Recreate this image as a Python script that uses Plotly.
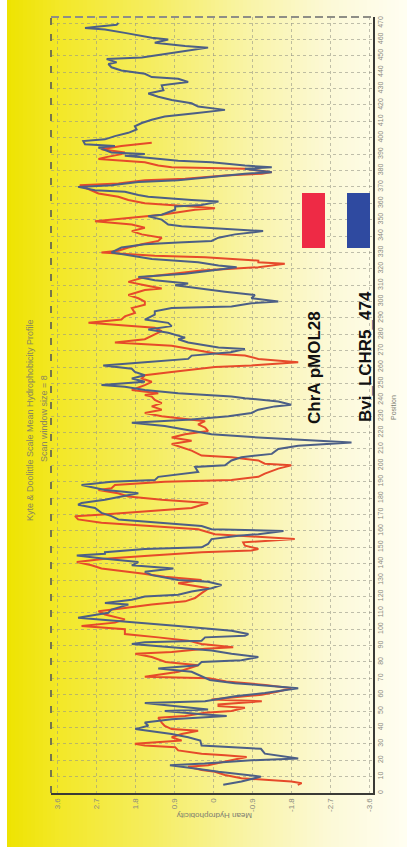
import plotly.graph_objects as go

# ---------------- data ----------------
chra_pos = [5, 6, 7, 8, 9, 11, 13, 14, 16, 17, 19, 21, 22, 23, 24, 26, 28, 29, 30, 32, 34, 36, 38, 39,
            41, 43, 46, 47, 49, 50, 52, 53, 54, 56, 57, 59, 60, 62, 64, 66, 68, 70, 71, 74, 78, 80,
            83, 85, 86, 88, 89, 91, 93, 95, 97, 100, 102, 104, 106, 109, 111, 113, 115, 117, 119,
            122, 125, 128, 130, 132, 134, 137, 139, 141, 143, 145, 147, 148, 149, 151, 153, 155,
            157, 158, 161, 163, 165, 167, 169, 170, 172, 174, 177, 179, 181, 183, 185, 186, 188,
            190, 191, 193, 195, 198, 200, 201, 203, 205, 206, 209, 213, 215, 217, 219, 221, 223,
            225, 227, 230, 232, 234, 236, 238, 240, 242, 243, 244, 246, 249, 251, 253, 255, 257,
            259, 260, 261, 263, 265, 267, 268, 271, 273, 275, 276, 277, 280, 282, 284, 286, 287,
            289, 291, 293, 296, 298, 300, 302, 304, 307, 308, 310, 312, 315, 317, 319, 320, 321,
            323, 324, 325, 327, 328, 330, 331, 333, 335, 337, 339, 341, 343, 345, 347, 349, 351,
            353, 356, 357, 358, 360, 362, 364, 366, 368, 370, 371, 372, 374, 375, 377, 378, 379,
            381, 382, 383, 385, 387, 388, 390, 391, 393, 395, 397]
chra_val = [-1.95, -2.04, -1.80, -1.19, -0.65, -0.27, -0.04, 0.27, 0.58, 0.12, -0.27, -0.58, -0.77,
            -0.27, 0.27, 0.81, 0.88, 1.58, 1.81, 0.73, 0.96, 0.73, 0.35, 0.96, 1.12, 1.19, 1.27,
            0.65, 0.19, -0.42, -0.73, -0.12, -0.12, -1.12, 0.04, -0.73, -1.12, -1.50, -1.80, -1.20,
            -0.30, 0.10, 1.58, 0.80, 0.35, 1.10, 1.42, 1.80, 0.96, 0.19, -0.46, 0.27, 0.58, 1.27,
            2.04, 2.04, 3.04, 2.27, 2.04, 2.50, 2.65, 2.04, 1.42, 0.65, 0.42, 0.27, 0.10, 0.81,
            0.27, 1.12, 1.65, 2.58, 2.81, 3.15, 2.50, 1.42, 0.27, -0.88, -1.04, -0.73, -0.69, -1.88,
            -0.65, -0.04, 0.35, 1.58, 2.58, 3.12, 3.19, 2.54, 1.58, 0.50, 0.12, 1.19, 1.96, 2.20,
            2.65, 2.35, 2.27, 1.12, -0.42, -1.04, -1.19, -1.50, -1.80, -1.19, -1.04, -0.42, 0.27,
            0.50, 0.96, 0.50, 0.96, 0.65, 0.12, 0.19, 0.35, 0.19, 1.19, 1.58, 1.19, 1.42, 1.19,
            1.35, 1.42, 1.58, 1.27, 1.88, 1.58, 1.42, 1.65, 1.58, 0.96, 0.27, -0.04, -0.88, -1.96,
            -1.04, -0.73, -0.12, 0.58, 0.96, 2.27, 1.96, 1.58, 1.35, 1.19, 1.35, 2.35, 2.88, 2.12,
            2.04, 1.81, 1.88, 1.58, 1.58, 1.73, 1.96, 1.58, 1.19, 1.58, 1.96, 1.58, 0.96, 0.27,
            -0.42, -1.04, -1.65, -1.04, -1.04, 0.19, 1.35, 2.58, 2.19, 1.96, 1.65, 1.27, 1.19,
            1.65, 1.88, 1.58, 1.88, 2.73, 1.96, 1.19, 0.42, -0.04, 0.50, 1.58, 1.96, 2.19, 2.65,
            2.81, 2.96, 3.08, 2.19, 1.58, 0.65, -0.27, -1.12, -1.35, -0.73, 0.96, 1.27, 1.58, 2.65,
            2.50, 2.12, 2.04, 2.58, 2.12, 1.42]

bvi_pos = [5, 7, 10, 11, 13, 15, 17, 18, 20, 21, 23, 24, 27, 28, 29, 32, 34, 36, 38, 39, 41, 43,
           45, 46, 47, 48, 50, 51, 52, 55, 56, 59, 61, 63, 64, 66, 67, 69, 74, 76, 78, 80, 81, 83,
           85, 87, 89, 91, 92, 93, 95, 96, 97, 99, 102, 104, 107, 108, 110, 112, 115, 116, 118,
           120, 121, 123, 125, 127, 129, 130, 133, 135, 137, 139, 141, 143, 145, 146, 147, 149,
           150, 152, 155, 157, 158, 160, 161, 163, 165, 167, 169, 171, 174, 176, 177, 179, 181,
           183, 184, 185, 188, 190, 191, 193, 196, 199, 200, 203, 205, 207, 210, 212, 214, 216,
           217, 219, 221, 224, 226, 228, 230, 232, 234, 236, 237, 239, 241, 242, 244, 246, 248,
           249, 251, 253, 255, 257, 259, 261, 263, 265, 267, 269, 271, 272, 275, 277, 278, 281,
           283, 285, 287, 289, 292, 294, 296, 297, 299, 300, 302, 304, 306, 308, 310, 311, 313,
           315, 317, 319, 321, 322, 324, 326, 328, 330, 333, 335, 336, 337, 339, 341, 343, 344,
           346, 347, 350, 352, 353, 356, 358, 359, 361, 362, 364, 365, 367, 368, 370, 371, 373,
           374, 376, 378, 379, 381, 382, 383, 385, 386, 388, 389, 390, 391, 394, 395, 396, 398,
           399, 401, 403, 405, 407, 409, 411, 413, 415, 417, 419, 421, 423, 425, 427, 429, 432,
           434, 436, 437, 439, 440, 441, 443, 445, 446, 448, 449, 451, 453, 455, 456, 458, 460,
           461, 463, 464, 466, 467, 468, 469, 470]
bvi_val = [-0.23, -0.65, -1.10, -0.73, -0.12, 0.42, 1.00, 0.20, -0.88, -1.96, -1.50, -1.19, -1.10,
           -0.42, 0.27, 0.30, 0.58, 0.96, 1.58, 1.80, 1.50, 1.58, 0.96, 0.19, -0.31, 0.27, 1.12,
           0.12, 0.50, 1.58, 0.19, -0.50, -1.19, -1.65, -1.96, -1.04, -0.50, 0.08, 0.50, 1.27,
           0.35, 0.27, -0.65, -1.04, -0.42, 0.04, 0.88, 1.88, 1.58, 0.27, 0.19, -0.73, -0.81,
           -0.42, 0.81, 1.73, 3.12, 2.88, 2.42, 2.35, 1.96, 2.50, 1.88, 1.58, 0.81, 0.50, 0.04,
           -0.19, 0.12, 0.81, 1.42, 1.58, 0.92, 1.88, 1.73, 2.50, 3.15, 2.50, 2.50, 1.58, 0.27,
           0.12, 0.04, -0.58, -1.04, -1.62, 0.04, 0.27, 1.19, 2.19, 2.35, 2.58, 2.73, 3.12, 3.04,
           2.50, 2.12, 1.73, 2.12, 2.50, 3.04, 2.35, 1.35, 1.27, 0.35, 0.42, -0.27, -0.42, -0.65,
           -1.35, -1.50, -1.96, -3.19, -1.65, -1.04, 0.04, 0.50, 1.12, 1.88, 0.50, -0.35, -0.88,
           -1.04, -1.42, -1.80, -1.50, -0.73, -0.42, 0.81, 1.58, 2.04, 2.58, 1.58, 1.88, 1.58,
           1.81, 1.88, 2.54, 1.58, 0.58, 0.50, -0.40, -0.73, -0.12, 0.58, 0.81, 0.65, 1.04, 1.50,
           0.96, 1.04, 1.58, 1.35, 1.35, 0.96, -0.42, -0.88, -1.50, -0.88, -0.96, -0.27, 0.27,
           0.88, 0.58, 1.35, 1.73, 0.65, 0.04, -0.54, -0.12, 0.35, 1.42, 1.88, 2.35, 2.12, 1.58,
           0.81, 0.04, -0.12, -0.50, -1.15, -0.42, 0.73, 1.04, 1.19, 1.50, 1.19, 0.88, 0.88, 0.27,
           -0.12, 0.50, 1.50, 1.73, 2.04, 2.73, 3.12, 2.35, 1.73, 0.81, 0.04, -0.73, -1.35, -0.73,
           -1.35, -0.73, 0.04, 0.81, 1.58, 2.04, 1.58, 2.35, 2.65, 2.27, 2.96, 3.00, 2.50, 2.27,
           1.96, 1.77, 1.81, 1.65, 1.42, 1.12, 0.42, -0.27, 0.35, 0.50, 0.96, 1.27, 1.50, 1.15,
           1.19, 0.58, 0.81, 1.42, 1.58, 1.81, 2.12, 2.35, 2.42, 2.23, 2.46, 1.65, 1.19, 0.65,
           0.12, 0.65, 1.35, 1.04, 1.42, 1.81, 2.04, 2.50, 2.96, 2.58, 2.23, 2.19]

series_names = ["ChrA pMOL28", "Bvi_LCHR5_474"]
hyd_ticks = [3.6, 2.7, 1.8, 0.9, 0, -0.9, -1.8, -2.7, -3.6]
hyd_labels = ["3.6", "2.7", "1.8", "0.9", "0", "-0.9", "-1.8", "-2.7", "-3.6"]
pos_ticks = list(range(0, 471, 10))
title_text = "Kyte & Doolittle Scale Mean Hydrophobicity Profile"
subtitle_text = "Scan window size = 8"

# ---------------- layout geometry (pixels) ----------------
W, H = 407, 857
L, R, T, B = 51, 373, 17, 793


def fx(px):
    return (px - L) / (R - L)


def fy(py):
    return (B - py) / (B - T)


fig = go.Figure()

fig.add_trace(go.Scatter(x=chra_val, y=chra_pos, mode="lines", name=series_names[0],
                         line=dict(color="#e64a2a", width=2)))
fig.add_trace(go.Scatter(x=bvi_val, y=bvi_pos, mode="lines", name=series_names[1],
                         line=dict(color="#4c5f86", width=2)))

# background gradient (yellow -> white, left to right)
stops = [(7, (238, 227, 0)), (60, (243, 232, 40)), (150, (245, 237, 95)),
         (250, (249, 244, 168)), (330, (252, 249, 215)), (407, (255, 254, 242))]


def grad(px):
    for (x0, c0), (x1, c1) in zip(stops[:-1], stops[1:]):
        if x0 <= px <= x1:
            t = (px - x0) / (x1 - x0)
            return "rgb(%d,%d,%d)" % tuple(round(a + (b - a) * t) for a, b in zip(c0, c1))
    return "rgb(255,254,242)"


shapes = []
step = 4
xs = 7
while xs < W:
    xe = min(xs + step, W)
    shapes.append(dict(type="rect", xref="paper", yref="paper", layer="below",
                       x0=fx(xs), x1=fx(xe + 0.6), y0=fy(847), y1=fy(0),
                       line=dict(width=0), fillcolor=grad((xs + xe) / 2)))
    xs = xe

# dashed borders (top and left)
shapes.append(dict(type="line", xref="paper", yref="paper", x0=0, x1=1, y0=1, y1=1,
                   line=dict(color="#8e8e86", width=2, dash="8px,4px")))
shapes.append(dict(type="line", xref="paper", yref="paper", x0=0, x1=0, y0=0, y1=1,
                   line=dict(color="#77764a", width=2, dash="7px,9px")))

# legend swatches
shapes.append(dict(type="rect", xref="paper", yref="paper", x0=fx(302), x1=fx(325),
                   y0=fy(248), y1=fy(193), line=dict(width=0), fillcolor="#ee2a45"))
shapes.append(dict(type="rect", xref="paper", yref="paper", x0=fx(347), x1=fx(370),
                   y0=fy(248), y1=fy(193), line=dict(width=0), fillcolor="#2f4aa0"))

ann_font = "Liberation Sans, Arial, sans-serif"
annotations = [
    dict(x=fx(30), y=fy(420), text=title_text, textangle=-90,
         font=dict(family=ann_font, size=9, color="#8a8660")),
    dict(x=fx(44), y=fy(419), text=subtitle_text, textangle=-90,
         font=dict(family=ann_font, size=9, color="#8a8660")),
    dict(x=fx(215), y=fy(815), text="Mean Hydrophobicity", textangle=180,
         font=dict(family=ann_font, size=8, color="#7c7c70")),
    dict(x=fx(393), y=fy(407), text="Position", textangle=-90,
         font=dict(family=ann_font, size=7, color="#7c7c70")),
    dict(x=fx(315), y=fy(368), text="<b>" + series_names[0] + "</b>", textangle=-90,
         font=dict(family=ann_font, size=17, color="#111111")),
    dict(x=fx(365), y=fy(357), text="<b>" + series_names[1] + "</b>", textangle=-90,
         font=dict(family=ann_font, size=17, color="#111111")),
]
for a in annotations:
    a.update(xref="paper", yref="paper", showarrow=False, xanchor="center", yanchor="middle")

grid_col = "rgba(150,150,135,0.6)"
fig.update_layout(
    width=W, height=H, autosize=False,
    margin=dict(l=L, r=W - R, t=T, b=H - B, pad=0),
    paper_bgcolor="white", plot_bgcolor="rgba(0,0,0,0)",
    showlegend=False,
    shapes=shapes, annotations=annotations,
    xaxis=dict(range=[3.745, -3.686], tickvals=hyd_ticks, ticktext=hyd_labels,
               tickangle=-90, tickfont=dict(family=ann_font, size=8, color="#8a8a80"),
               showgrid=True, gridcolor=grid_col, griddash="dot", gridwidth=1,
               zeroline=False, showline=True, linecolor="#3a3a36", linewidth=2,
               ticks="", side="bottom", fixedrange=True),
    yaxis=dict(range=[0, 473.7], tickvals=pos_ticks, ticktext=[str(v) for v in pos_ticks],
               tickangle=-90, tickfont=dict(family=ann_font, size=7, color="#8a8a80"),
               showgrid=True, gridcolor=grid_col, griddash="dot", gridwidth=1,
               zeroline=False, showline=True, linecolor="#3a3a36", linewidth=2,
               ticks="", side="right", fixedrange=True),
)

fig.write_html("out.html", config={"displayModeBar": False},
               post_script="document.body.style.margin='0';document.body.style.overflow='hidden';")
